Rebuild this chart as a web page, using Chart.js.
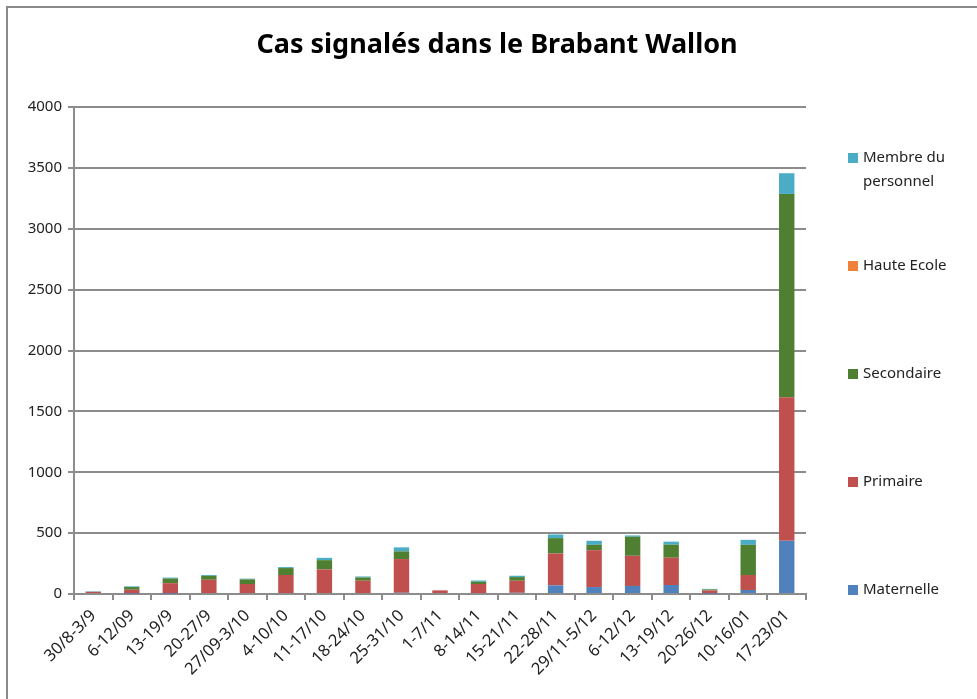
<!DOCTYPE html>
<html>
<head>
<meta charset="utf-8">
<script src="https://cdn.jsdelivr.net/npm/chart.js@4/dist/chart.umd.min.js"></script>
<style>
  html, body { margin: 0; padding: 0; background: #fff; }
  #cadre { position: absolute; left: 0; top: 0; width: 977px; height: 699px; }
  #bord { position: absolute; left: 6px; top: 6px; width: 1000px; height: 720px;
          border-left: 2px solid #8a8a8a; border-top: 2px solid #8a8a8a; pointer-events: none; }
</style>
</head>
<body>
<div id="cadre"><canvas id="grafica-cas"></canvas></div>
<div id="bord"></div>
<script>
// Semaines
const semaines = ["30/8-3/9", "6-12/09", "13-19/9", "20-27/9", "27/09-3/10", "4-10/10", "11-17/10",
  "18-24/10", "25-31/10", "1-7/11", "8-14/11", "15-21/11", "22-28/11", "29/11-5/12", "6-12/12",
  "13-19/12", "20-26/12", "10-16/01", "17-23/01"];

// Cas par niveau
const maternelle = [0, 2, 2, 0, 0, 8, 8, 0, 10, 0, 0, 10, 71, 57, 66, 74, 2, 33, 437];
const primaire   = [18, 33, 87, 117, 82, 148, 194, 109, 277, 30, 82, 99, 262, 303, 248, 224, 27, 123, 1178];
const secondaire = [0, 22, 38, 32, 38, 57, 76, 27, 63, 0, 19, 30, 126, 44, 156, 107, 8, 248, 1671];
const hauteEcole = [0, 0, 0, 0, 0, 0, 0, 0, 0, 0, 0, 0, 0, 0, 0, 0, 0, 0, 0];
const personnel  = [4, 6, 8, 7, 6, 8, 19, 8, 33, 0, 10, 11, 30, 33, 11, 25, 5, 41, 170];

const yTicks = [0, 500, 1000, 1500, 2000, 2500, 3000, 3500, 4000];

const titre = "Cas signalés dans le Brabant Wallon";
const police = "'Noto Sans', 'Open Sans', sans-serif";
const gris = "#8c8c8c";

// titre et legende dessines a la main (placement facon Excel)
const decorExcel = {
  id: "decorExcel",
  afterDraw(chart) {
    const ctx = chart.ctx;
    const area = chart.chartArea;
    const items = chart.data.datasets;
    const pas = 108;
    ctx.save();
    ctx.fillStyle = "#000";
    ctx.font = "bold 27px " + police;
    ctx.textAlign = "center";
    ctx.textBaseline = "middle";
    ctx.fillText(titre, 497, 45);

    ctx.textAlign = "left";
    ctx.font = "15px " + police;
    items.forEach((ds, i) => {
      const y = area.bottom - 4 - i * pas;
      ctx.fillStyle = ds.backgroundColor;
      ctx.fillRect(848, y - 5, 10, 10);
      ctx.fillStyle = "#222";
      ds.lignes.forEach((t, k) => ctx.fillText(t, 863, y + k * 24));
    });
    ctx.restore();
  }
};

function serie(label, lignes, data, couleur) {
  return { label, lignes, data, backgroundColor: couleur, borderWidth: 0 };
}

const ctxCas = document.getElementById("grafica-cas").getContext("2d");

new Chart(ctxCas, {
  type: "bar",
  data: {
    labels: semaines,
    datasets: [
      serie("Maternelle", ["Maternelle"], maternelle, "#4f81bd"),
      serie("Primaire", ["Primaire"], primaire, "#c0504d"),
      serie("Secondaire", ["Secondaire"], secondaire, "#4f7f31"),
      serie("Haute Ecole", ["Haute Ecole"], hauteEcole, "#f0813a"),
      serie("Membre du personnel", ["Membre du", "personnel"], personnel, "#4bacc6")
    ]
  },
  options: {
    responsive: true,
    maintainAspectRatio: false,
    animation: false,
    layout: { padding: { left: 0, right: 171, top: 107, bottom: 0 } },
    datasets: { bar: { barPercentage: 0.4, categoryPercentage: 1 } },
    plugins: {
      legend: { display: false },
      tooltip: { enabled: false },
      title: { display: false }
    },
    scales: {
      x: {
        stacked: true,
        afterFit: s => { s.height = 105; },
        grid: { offset: true, drawOnChartArea: false, drawTicks: true, tickLength: 6, color: gris, lineWidth: 2 },
        border: { display: true, color: gris, width: 2 },
        ticks: { color: "#222", font: { family: police, size: 16.5 }, minRotation: 45, maxRotation: 45, autoSkip: false, padding: 6 }
      },
      y: {
        stacked: true,
        min: 0,
        max: 4000,
        afterFit: s => { s.width = 74; },
        afterBuildTicks: s => { s.ticks = yTicks.map(v => ({ value: v })); },
        grid: { color: gris, lineWidth: 2, drawTicks: true, tickLength: 6 },
        border: { display: true, color: gris, width: 2 },
        ticks: { color: "#222", font: { family: police, size: 15 }, padding: 6, callback: v => String(v) }
      }
    }
  },
  plugins: [decorExcel]
});
</script>
</body>
</html>
